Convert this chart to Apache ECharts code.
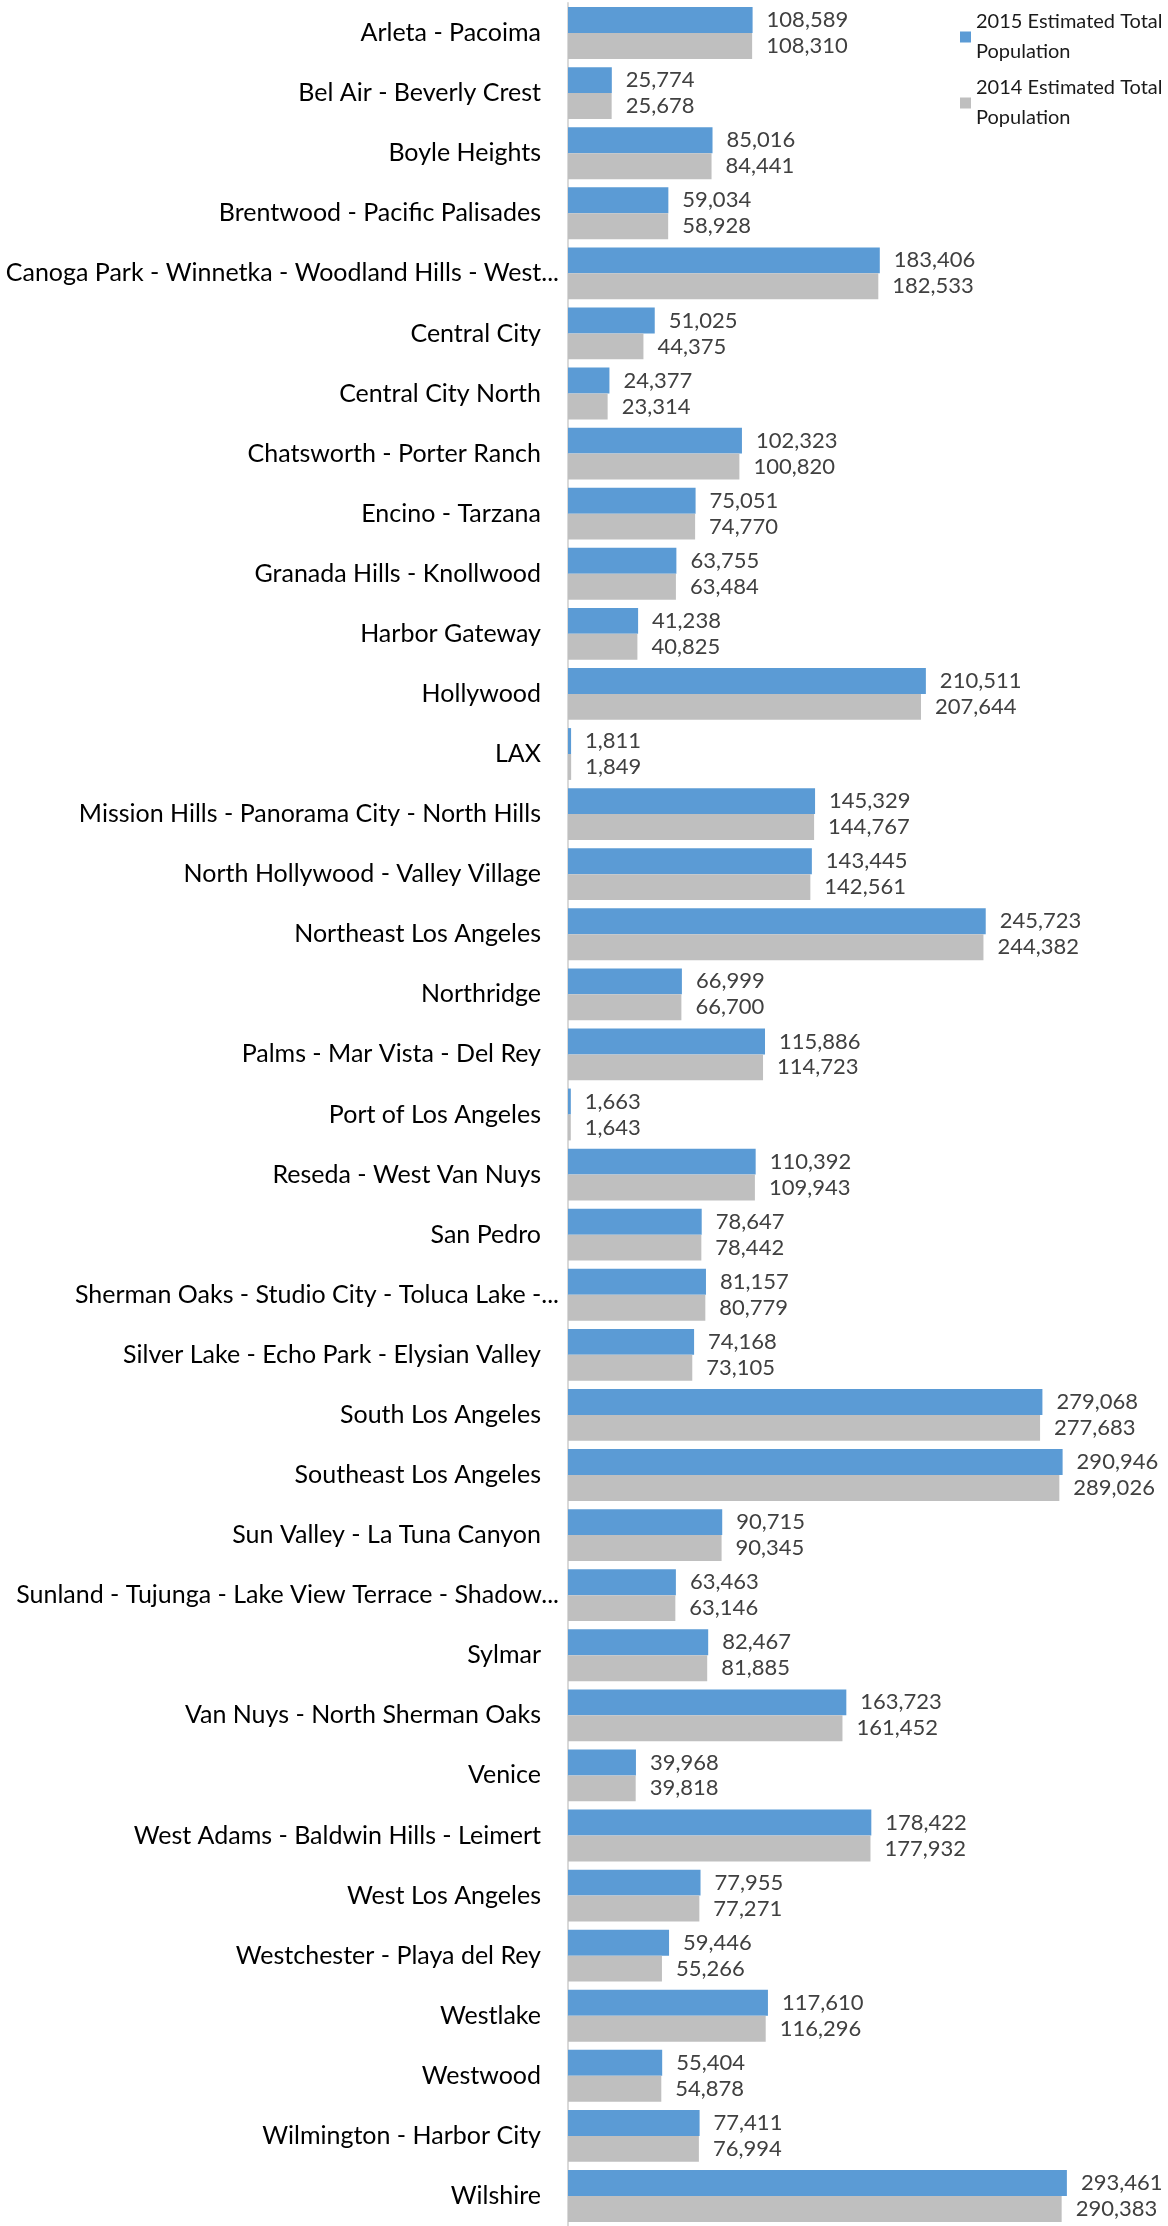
<!DOCTYPE html>
<html>
<head>
<meta charset="utf-8">
<script src="https://cdn.jsdelivr.net/npm/echarts@6/dist/echarts.min.js"></script>
<style>
html,body{margin:0;padding:0;background:#fff;}
#chart{width:1168px;height:2226px;}
</style>
</head>
<body>
<div id="chart"></div>
<script>
var categories = [
  "Arleta - Pacoima",
  "Bel Air - Beverly Crest",
  "Boyle Heights",
  "Brentwood - Pacific Palisades",
  "Canoga Park - Winnetka - Woodland Hills - West...",
  "Central City",
  "Central City North",
  "Chatsworth - Porter Ranch",
  "Encino - Tarzana",
  "Granada Hills - Knollwood",
  "Harbor Gateway",
  "Hollywood",
  "LAX",
  "Mission Hills - Panorama City - North Hills",
  "North Hollywood - Valley Village",
  "Northeast Los Angeles",
  "Northridge",
  "Palms - Mar Vista - Del Rey",
  "Port of Los Angeles",
  "Reseda - West Van Nuys",
  "San Pedro",
  "Sherman Oaks - Studio City - Toluca Lake -...",
  "Silver Lake - Echo Park - Elysian Valley",
  "South Los Angeles",
  "Southeast Los Angeles",
  "Sun Valley - La Tuna Canyon",
  "Sunland - Tujunga - Lake View Terrace - Shadow...",
  "Sylmar",
  "Van Nuys - North Sherman Oaks",
  "Venice",
  "West Adams - Baldwin Hills - Leimert",
  "West Los Angeles",
  "Westchester - Playa del Rey",
  "Westlake",
  "Westwood",
  "Wilmington - Harbor City",
  "Wilshire"
];

var pop2015 = [108589, 25774, 85016, 59034, 183406, 51025, 24377, 102323, 75051, 63755,
  41238, 210511, 1811, 145329, 143445, 245723, 66999, 115886, 1663, 110392,
  78647, 81157, 74168, 279068, 290946, 90715, 63463, 82467, 163723, 39968,
  178422, 77955, 59446, 117610, 55404, 77411, 293461];

var pop2014 = [108310, 25678, 84441, 58928, 182533, 44375, 23314, 100820, 74770, 63484,
  40825, 207644, 1849, 144767, 142561, 244382, 66700, 114723, 1643, 109943,
  78442, 80779, 73105, 277683, 289026, 90345, 63146, 81885, 161452, 39818,
  177932, 77271, 55266, 116296, 54878, 76994, 290383];

var seriesNames = ["2015 Estimated Total Population", "2014 Estimated Total Population"];

var FONT = 'Lato, "Open Sans", sans-serif';
var chart = echarts.init(document.getElementById('chart'), null, {renderer: 'canvas'});

function fmt(v) { return Number(v).toLocaleString('en-US'); }

var valueLabel = {
  show: true,
  position: 'right',
  distance: 14,
  fontFamily: FONT,
  fontSize: 22,
  color: '#404040',
  formatter: function (p) { return fmt(p.value); }
};

chart.setOption({
  animation: false,
  backgroundColor: '#ffffff',
  textStyle: {fontFamily: FONT},
  legend: {
    orient: 'vertical',
    left: 955,
    top: -13,
    itemWidth: 11,
    itemHeight: 11,
    itemGap: -24,
    icon: 'rect',
    data: seriesNames,
    formatter: function (name) {
      return name.replace(' Population', '\nPopulation');
    },
    textStyle: {
      fontFamily: FONT,
      fontSize: 20,
      color: '#1a1a1a',
      lineHeight: 30,
      padding: [30, 0, 0, 0]
    }
  },
  grid: {
    left: 568,
    right: 90,
    top: 3,
    height: 2229,
    containLabel: false
  },
  xAxis: {
    type: 'value',
    min: 0,
    max: 300000,
    show: false
  },
  yAxis: {
    type: 'category',
    data: categories,
    inverse: true,
    axisLine: {show: true, lineStyle: {color: '#d9d9d9', width: 2}},
    axisTick: {show: false},
    splitLine: {show: false},
    axisLabel: {
      margin: 9,
      interval: 0,
      color: '#000000',
      fontFamily: FONT,
      fontSize: 25,
      formatter: function (v) {
        if (v.slice(-3) === '...') return '{l|' + v + '}';
        return '{n|' + v + '}';
      },
      rich: {
        n: {fontFamily: FONT, fontSize: 25, color: '#000000', padding: [0, 18, 0, 0]},
        l: {fontFamily: FONT, fontSize: 25, color: '#000000'}
      }
    }
  },
  series: [
    {
      name: seriesNames[0],
      type: 'bar',
      data: pop2015,
      barGap: '0%',
      barCategoryGap: '13.7%',
      itemStyle: {color: '#5B9BD5'},
      label: valueLabel
    },
    {
      name: seriesNames[1],
      type: 'bar',
      data: pop2014,
      barGap: '0%',
      barCategoryGap: '13.7%',
      itemStyle: {color: '#BFBFBF'},
      label: valueLabel
    }
  ]
});
</script>
</body>
</html>
